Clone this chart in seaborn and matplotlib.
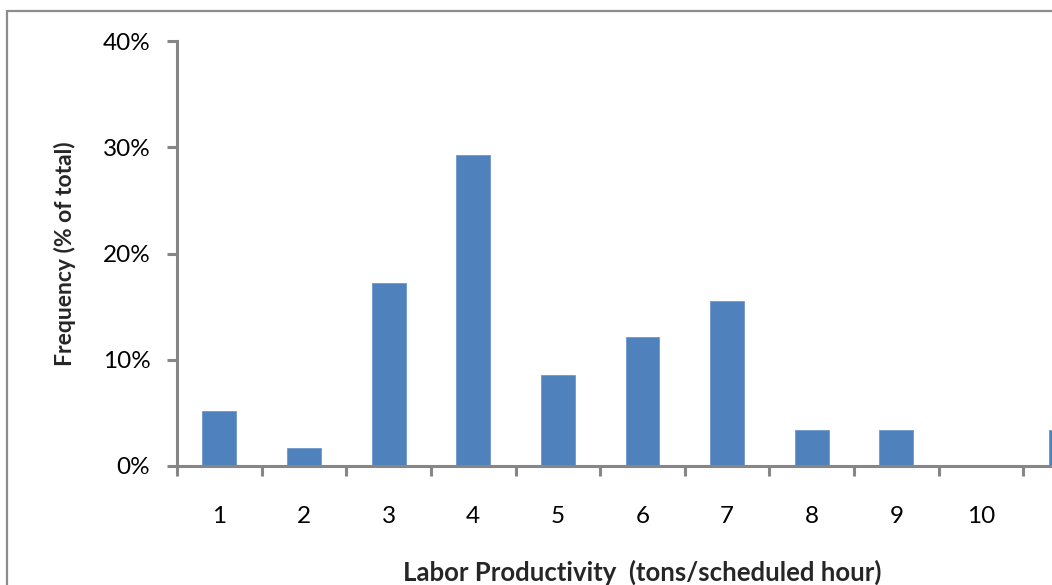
import matplotlib
matplotlib.use("Agg")
import matplotlib.pyplot as plt
from matplotlib.patches import Rectangle
from matplotlib.ticker import FixedLocator, FuncFormatter
import seaborn as sns
import pandas as pd

# Labor productivity bins and share of observations in each bin
bins = ["1", "2", "3", "4", "5", "6", "7", "8", "9", "10", "11"]
freq_pct = [5.2, 1.7, 17.2, 29.3, 8.6, 12.1, 15.5, 3.4, 3.4, 0.0, 3.4]
y_ticks = [0, 10, 20, 30, 40]

df = pd.DataFrame({"bin": bins, "freq": freq_pct})

sns.set_theme(style="white")
plt.rcParams["font.family"] = ["Lato", "DejaVu Sans"]

W, H = 1052, 585
fig = plt.figure(figsize=(W / 100, H / 100), dpi=100)
ax = fig.add_axes([177 / W, 1 - 466 / H, 931 / W, 425 / H])

sns.barplot(data=df, x="bin", y="freq", color="#4F81BD", width=0.4,
            saturation=1, ax=ax, edgecolor="#6f97cc", linewidth=0.6)

axis_gray = "#868686"
ax.set_xlim(-0.5, len(bins) - 0.5)
ax.set_ylim(0, 40)
ax.yaxis.set_major_locator(FixedLocator(y_ticks))
ax.yaxis.set_major_formatter(FuncFormatter(lambda v, p: f"{v:.0f}%"))

for side in ("top", "right"):
    ax.spines[side].set_visible(False)
for side in ("left", "bottom"):
    ax.spines[side].set_color(axis_gray)
    ax.spines[side].set_linewidth(2.2)

ax.tick_params(axis="y", which="major", direction="out", length=7.2, width=2.2,
               color=axis_gray, pad=12, labelsize=17.5, labelcolor="black", left=True)
# category labels sit centered under each bar; ticks mark the bin boundaries
ax.tick_params(axis="x", which="major", length=0, pad=29, labelsize=17.5, labelcolor="black")
ax.xaxis.set_minor_locator(FixedLocator([i - 0.5 for i in range(len(bins) + 1)]))
ax.tick_params(axis="x", which="minor", direction="out", length=7.2, width=2.2,
               color=axis_gray, bottom=True)

ax.set_xlabel("Labor Productivity  (tons/scheduled hour)", fontsize=18.5,
              fontweight="bold", labelpad=23)
ax.set_ylabel("Frequency (% of total)", fontsize=16.5, fontweight="bold", labelpad=19)
ax.grid(False)

# chart area frame
fig.patches.append(Rectangle((7 / W, -0.1), 1.2, 1.1 - 11 / H, transform=fig.transFigure,
                             fill=False, edgecolor="#8c8c8c", linewidth=1.6, zorder=0))

fig.savefig("out.png", dpi=100)
